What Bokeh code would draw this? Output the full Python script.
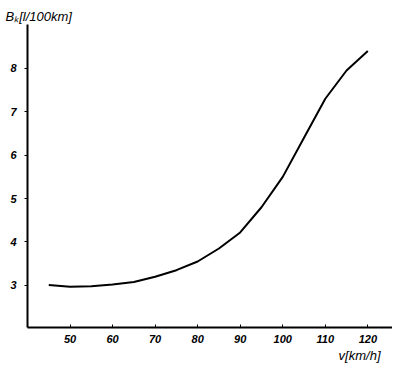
from bokeh.plotting import figure
from bokeh.models import FixedTicker, Range1d, Title
from bokeh.embed import file_html
from bokeh.resources import INLINE

# data
speed = [45, 50, 55, 60, 65, 70, 75, 80, 85, 90, 95, 100, 105, 110, 115, 120]
consumption = [3.01, 2.97, 2.98, 3.02, 3.08, 3.2, 3.35, 3.55, 3.85, 4.22, 4.8, 5.5, 6.4, 7.3, 7.95, 8.4]
x_ticks = [50, 60, 70, 80, 90, 100, 110, 120]
y_ticks = [3, 4, 5, 6, 7, 8]
y_title = "Bₖ[l/100km]"
x_title = "v[km/h]"

FONT = "Liberation Sans"

p = figure(width=392, height=363, output_backend="svg", toolbar_location=None,
           x_range=Range1d(40, 125.8), y_range=Range1d(2.03, 9.01),
           min_border_left=27, min_border_right=0, min_border_top=24, min_border_bottom=36,
           title=y_title)
p.outline_line_color = None
p.xgrid.visible = False
p.ygrid.visible = False
p.background_fill_color = "white"
p.border_fill_color = "white"

p.title.align = "left"
p.title.offset = -22
p.title.standoff = 2
p.title.text_font = FONT
p.title.text_font_style = "italic"
p.title.text_font_size = "13px"
p.title.text_color = "black"

p.line(speed, consumption, line_color="black", line_width=2)

for ax in (p.xaxis[0], p.yaxis[0]):
    ax.axis_line_color = "black"
    ax.axis_line_width = 2
    ax.major_tick_line_color = "black"
    ax.major_tick_line_width = 1
    ax.minor_tick_line_color = None
    ax.major_label_text_font = FONT
    ax.major_label_text_font_style = "bold italic"
    ax.major_label_text_font_size = "11px"
    ax.major_label_text_color = "black"

p.xaxis.ticker = FixedTicker(ticks=x_ticks)
p.yaxis.ticker = FixedTicker(ticks=y_ticks)
p.xaxis.major_tick_in = 3
p.xaxis.major_tick_out = 0
p.xaxis.major_label_standoff = 7
p.yaxis.major_tick_in = 0
p.yaxis.major_tick_out = 3
p.yaxis.major_label_standoff = 8

xt = Title(text=x_title, align="right", offset=12, standoff=0,
           text_font=FONT, text_font_style="italic", text_font_size="13px",
           text_color="black")
p.add_layout(xt, "below")

open("out.html", "w").write(file_html(p, INLINE))
